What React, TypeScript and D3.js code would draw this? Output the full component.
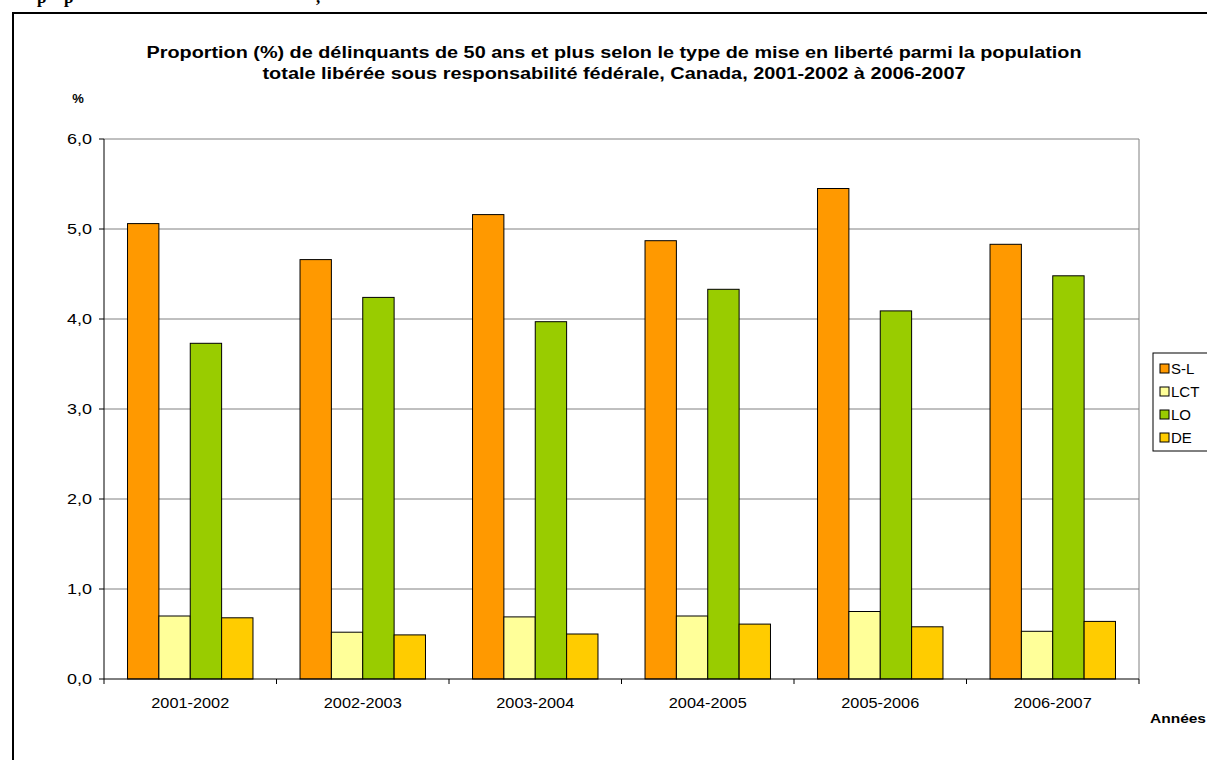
import React from "react";
import * as d3 from "d3";

const categories = ["2001-2002", "2002-2003", "2003-2004", "2004-2005", "2005-2006", "2006-2007"];
const seriesNames = ["S-L", "LCT", "LO", "DE"];
const seriesColors = ["#FF9900", "#FFFF99", "#99CC00", "#FFCC00"];
const valuesSL = [5.06, 4.66, 5.16, 4.87, 5.45, 4.83];
const valuesLCT = [0.70, 0.52, 0.69, 0.70, 0.75, 0.53];
const valuesLO = [3.73, 4.24, 3.97, 4.33, 4.09, 4.48];
const valuesDE = [0.68, 0.49, 0.50, 0.61, 0.58, 0.64];
const yTicks = [0, 1, 2, 3, 4, 5, 6];
const titleLines = [
  "Proportion (%) de délinquants de 50 ans et plus selon le type de mise en liberté parmi la population",
  "totale libérée sous responsabilité fédérale, Canada, 2001-2002 à 2006-2007",
];
const titleWidths = [935, 703];

const W = 1207;
const H = 760;
const plot = { left: 104, right: 1139, top: 139, bottom: 679 };

export default function App() {
  const series = [valuesSL, valuesLCT, valuesLO, valuesDE];
  const x0 = d3.scaleBand<string>().domain(categories).range([plot.left, plot.right]).paddingInner(0).paddingOuter(0);
  const groupW = x0.bandwidth();
  const barW = groupW / (4 + 1.5);
  const x1 = d3.scaleBand<string>().domain(seriesNames).range([0, barW * 4]);
  const y = d3.scaleLinear().domain([0, 6]).range([plot.bottom, plot.top]);
  const fmt = (v: number) => d3.format(".1f")(v).replace(".", ",");
  const font = "Arial, 'Liberation Sans', sans-serif";

  return (
    <svg width={W} height={H} style={{ position: "absolute", left: 0, top: 0 }} fontFamily={font}>
      <rect x={0} y={0} width={W} height={H} fill="#fff" />
      {/* clipped document text above the frame */}
      <g fontFamily="'Liberation Serif', 'Times New Roman', serif" fontWeight="bold" fontSize={17}>
        <text x={37} y={3}>p</text>
        <text x={64} y={3}>p</text>
        <text x={316} y={3}>,</text>
      </g>
      <rect x={13} y={13} width={W + 10} height={H + 10} fill="none" stroke="#000" strokeWidth={2} />

      {/* title */}
      {titleLines.map((t, i) => (
        <text
          key={i}
          x={614}
          y={58 + i * 21}
          textAnchor="middle"
          fontWeight="bold"
          fontSize={16}
          textLength={titleWidths[i]}
          lengthAdjust="spacingAndGlyphs"
        >
          {t}
        </text>
      ))}
      <text x={78} y={103} textAnchor="middle" fontWeight="bold" fontSize={13}>%</text>

      {/* gridlines */}
      {yTicks.filter((t) => t > 0).map((t) => (
        <line key={t} x1={plot.left} x2={plot.right} y1={y(t)} y2={y(t)} stroke="#808080" strokeWidth={1} />
      ))}
      <line x1={plot.right} x2={plot.right} y1={plot.top} y2={plot.bottom} stroke="#808080" strokeWidth={1} />

      {/* bars */}
      {categories.map((c, ci) => (
        <g key={c} transform={`translate(${(x0(c) as number) + (groupW - barW * 4) / 2},0)`}>
          {seriesNames.map((s, si) => (
            <rect
              key={s}
              x={x1(s) as number}
              y={y(series[si][ci])}
              width={x1.bandwidth()}
              height={plot.bottom - y(series[si][ci])}
              fill={seriesColors[si]}
              stroke="#000"
              strokeWidth={1}
            />
          ))}
        </g>
      ))}

      {/* axes */}
      <line x1={plot.left} x2={plot.left} y1={plot.top} y2={plot.bottom} stroke="#000" strokeWidth={1} />
      <line x1={plot.left} x2={plot.right} y1={plot.bottom} y2={plot.bottom} stroke="#000" strokeWidth={1} />
      {yTicks.map((t) => (
        <g key={t}>
          <line x1={plot.left - 5} x2={plot.left} y1={y(t)} y2={y(t)} stroke="#000" />
          <text x={92} y={y(t) + 5} textAnchor="end" fontSize={15} textLength={25} lengthAdjust="spacingAndGlyphs">
            {fmt(t)}
          </text>
        </g>
      ))}
      {categories.map((c, i) => (
        <g key={c}>
          <line x1={x0(c) as number} x2={x0(c) as number} y1={plot.bottom} y2={plot.bottom + 5} stroke="#000" />
          {i === categories.length - 1 && (
            <line x1={plot.right} x2={plot.right} y1={plot.bottom} y2={plot.bottom + 5} stroke="#000" />
          )}
          <text
            x={(x0(c) as number) + groupW / 2}
            y={708}
            textAnchor="middle"
            fontSize={15}
            textLength={78}
            lengthAdjust="spacingAndGlyphs"
          >
            {c}
          </text>
        </g>
      ))}
      <text x={1150} y={723} fontWeight="bold" fontSize={13} textLength={56} lengthAdjust="spacingAndGlyphs">
        Années
      </text>

      {/* legend */}
      <rect x={1153} y={353} width={70} height={98} fill="#fff" stroke="#000" strokeWidth={1} />
      {seriesNames.map((s, i) => (
        <g key={s}>
          <rect x={1160} y={364 + i * 23} width={9} height={9} fill={seriesColors[i]} stroke="#000" />
          <text x={1171} y={374 + i * 23} fontSize={15}>{s}</text>
        </g>
      ))}
    </svg>
  );
}
